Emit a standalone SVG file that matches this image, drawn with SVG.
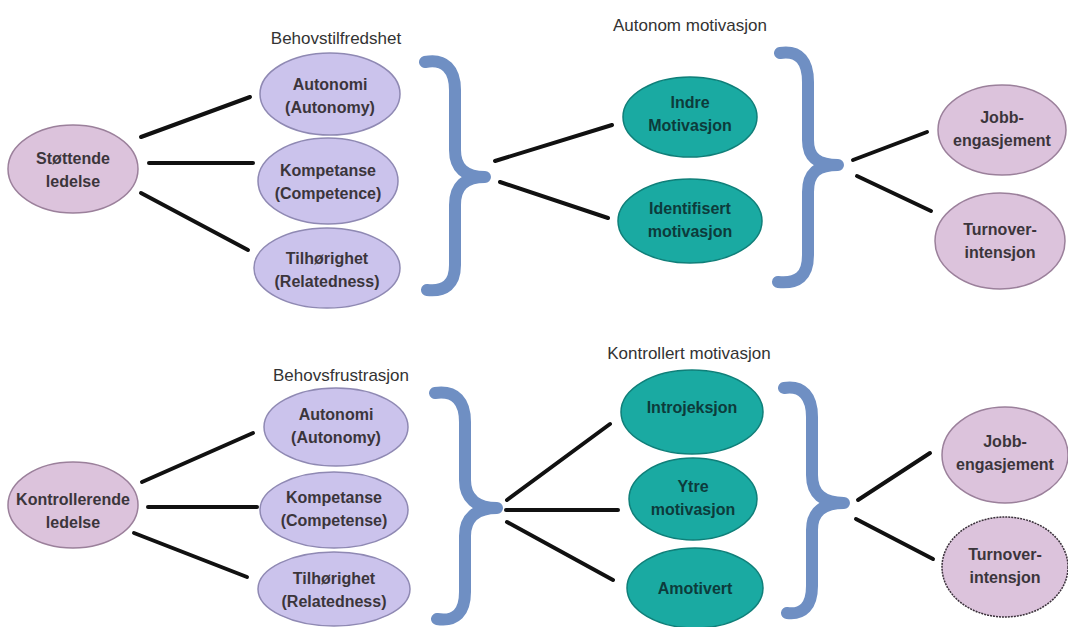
<svg xmlns="http://www.w3.org/2000/svg" width="1068" height="627" viewBox="0 0 1068 627">
<style>
.pink{fill:#dcc3dc;stroke:#9b809b;stroke-width:1.5}
.lav{fill:#cbc3ec;stroke:#8f89b3;stroke-width:1.5}
.teal{fill:#1aaaa2;stroke:#0f7f79;stroke-width:1.5}
.t{font-family:"Liberation Sans",Arial,sans-serif;font-size:16px;font-weight:bold;fill:#3b353b;text-anchor:middle}
.tt{font-family:"Liberation Sans",Arial,sans-serif;font-size:16px;font-weight:bold;fill:#0d3b3b;text-anchor:middle}
.h{font-family:"Liberation Sans",Arial,sans-serif;font-size:17px;fill:#333;text-anchor:middle}
.ln{stroke:#111;stroke-width:4;stroke-linecap:round}
.br{fill:none;stroke:#6f8fc3;stroke-width:12;stroke-linecap:round;stroke-linejoin:round}
</style>
<rect width="1068" height="627" fill="#fff"/>
<g id="headers">
<text class="h" x="336" y="44">Behovstilfredshet</text>
<text class="h" x="690" y="31">Autonom motivasjon</text>
<text class="h" x="341" y="381">Behovsfrustrasjon</text>
<text class="h" x="689" y="359">Kontrollert motivasjon</text>
</g>
<g id="braces">
<path class="br" d="M425,62 C445,58 455,70 455,90 L455,150 C455,168 465,177 485,177 C465,177 455,186 455,205 L455,265 C455,284 445,292 427,290"/>
<path class="br" d="M780,53 C800,50 808,62 808,82 L808,140 C808,158 818,165 838,165 C818,165 808,172 808,192 L808,255 C808,276 798,284 778,282"/>
<path class="br" d="M435,393 C456,390 465,402 465,422 L465,480 C465,498 476,508 497,508 C476,508 465,518 465,536 L465,592 C465,612 456,622 437,619"/>
<path class="br" d="M784,388 C803,385 812,397 812,417 L812,475 C812,494 823,503 844,503 C823,503 812,512 812,530 L812,586 C812,606 803,615 787,613"/>
</g>
<g id="connectors">
<line class="ln" x1="141" y1="137" x2="250" y2="97"/>
<line class="ln" x1="149" y1="163" x2="253" y2="163"/>
<line class="ln" x1="141" y1="193" x2="248" y2="250"/>
<line class="ln" x1="495" y1="161" x2="612" y2="125"/>
<line class="ln" x1="500" y1="182" x2="608" y2="218"/>
<line class="ln" x1="853" y1="160" x2="927" y2="132"/>
<line class="ln" x1="857" y1="176" x2="931" y2="211"/>
<line class="ln" x1="142" y1="482" x2="253" y2="433"/>
<line class="ln" x1="148" y1="507" x2="257" y2="507"/>
<line class="ln" x1="134" y1="533" x2="247" y2="577"/>
<line class="ln" x1="507" y1="500" x2="610" y2="424"/>
<line class="ln" x1="506" y1="510" x2="618" y2="510"/>
<line class="ln" x1="507" y1="522" x2="613" y2="580"/>
<line class="ln" x1="858" y1="500" x2="930" y2="453"/>
<line class="ln" x1="856" y1="519" x2="933" y2="559"/>
</g>
<g id="stottende"><ellipse class="pink" cx="73" cy="169" rx="65" ry="44"/><text class="t" x="73" y="164">Støttende</text><text class="t" x="73" y="187">ledelse</text></g>
<g id="autonomi1"><ellipse class="lav" cx="330" cy="94" rx="70" ry="41"/><text class="t" x="330" y="90">Autonomi</text><text class="t" x="330" y="113">(Autonomy)</text></g>
<g id="kompetanse1"><ellipse class="lav" cx="328" cy="181" rx="70" ry="43"/><text class="t" x="328" y="176">Kompetanse</text><text class="t" x="328" y="199">(Competence)</text></g>
<g id="tilhorighet1"><ellipse class="lav" cx="327" cy="268" rx="73" ry="40"/><text class="t" x="327" y="264">Tilhørighet</text><text class="t" x="327" y="287">(Relatedness)</text></g>
<g id="indre"><ellipse class="teal" cx="690" cy="117" rx="67" ry="40"/><text class="tt" x="690" y="108">Indre</text><text class="tt" x="690" y="131">Motivasjon</text></g>
<g id="identifisert"><ellipse class="teal" cx="690" cy="221" rx="72" ry="42"/><text class="tt" x="690" y="214">Identifisert</text><text class="tt" x="690" y="237">motivasjon</text></g>
<g id="jobb1"><ellipse class="pink" cx="1002" cy="130" rx="64" ry="45"/><text class="t" x="1002" y="123">Jobb-</text><text class="t" x="1002" y="146">engasjement</text></g>
<g id="turnover1"><ellipse class="pink" cx="1000" cy="241" rx="65" ry="48"/><text class="t" x="1000" y="235">Turnover-</text><text class="t" x="1000" y="258">intensjon</text></g>
<g id="kontrollerende"><ellipse class="pink" cx="73" cy="505" rx="65" ry="43"/><text class="t" x="73" y="505">Kontrollerende</text><text class="t" x="73" y="528">ledelse</text></g>
<g id="autonomi2"><ellipse class="lav" cx="336" cy="427" rx="72" ry="39"/><text class="t" x="336" y="420">Autonomi</text><text class="t" x="336" y="443">(Autonomy)</text></g>
<g id="kompetanse2"><ellipse class="lav" cx="334" cy="510" rx="74" ry="38"/><text class="t" x="334" y="503">Kompetanse</text><text class="t" x="334" y="526">(Competense)</text></g>
<g id="tilhorighet2"><ellipse class="lav" cx="334" cy="589" rx="76" ry="37"/><text class="t" x="334" y="584">Tilhørighet</text><text class="t" x="334" y="607">(Relatedness)</text></g>
<g id="introjeksjon"><ellipse class="teal" cx="692" cy="412" rx="71" ry="42"/><text class="tt" x="692" y="413">Introjeksjon</text></g>
<g id="ytre"><ellipse class="teal" cx="693" cy="499" rx="64" ry="41"/><text class="tt" x="693" y="492">Ytre</text><text class="tt" x="693" y="515">motivasjon</text></g>
<g id="amotivert"><ellipse class="teal" cx="695" cy="588" rx="68" ry="40"/><text class="tt" x="695" y="594">Amotivert</text></g>
<g id="jobb2"><ellipse class="pink" cx="1005" cy="455" rx="63" ry="48"/><text class="t" x="1005" y="447">Jobb-</text><text class="t" x="1005" y="470">engasjement</text></g>
<g id="turnover2"><ellipse class="pink" cx="1005" cy="567" rx="63" ry="50" style="stroke:#3a303a;stroke-dasharray:2 1"/><text class="t" x="1005" y="560">Turnover-</text><text class="t" x="1005" y="583">intensjon</text></g>
</svg>
